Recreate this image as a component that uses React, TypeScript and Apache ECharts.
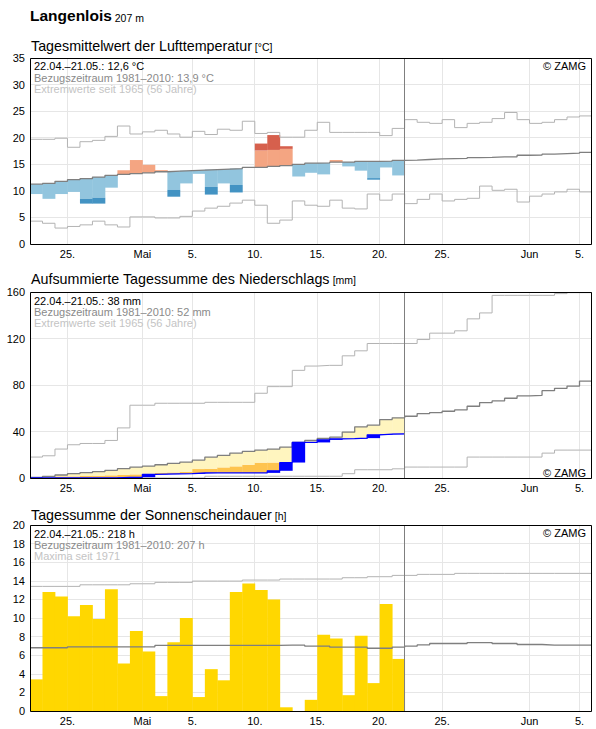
import React, { useEffect, useRef } from 'react';
import * as echarts from 'echarts';

const FONT = '"Liberation Sans", Arial, Helvetica, sans-serif';

// x axis: days counted from 22.04. 00:00, range 22.04. – 06.06.
const TOTAL_DAYS = 45;
const OBS_END = 30;
const xTickDays = [3, 9, 13, 18, 23, 28, 33, 40, 44];
const xTickLabels = ['25.', 'Mai', '5.', '10.', '15.', '20.', '25.', 'Jun', '5.'];

// ---------- Temperature (°C) ----------
const tempMean = [11.25, 11.4, 11.8, 12.1, 12.3, 12.6, 12.9, 13.1, 13.25, 13.4, 13.6, 13.7, 13.8, 13.9, 14.0, 14.1, 14.2, 14.4, 14.4, 14.6, 14.75, 15.0, 15.2, 15.25, 15.4, 15.4, 15.55, 15.55, 15.6, 15.75, 15.8, 15.9, 16.0, 16.05, 16.1, 16.25, 16.3, 16.4, 16.4, 16.7, 16.75, 16.9, 17.0, 17.1, 17.25];
const tempMax = [19.7, 19.7, 19.9, 18.2, 19.25, 19.5, 20.25, 22.2, 20.7, 21.1, 21.4, 20.7, 20.1, 21.2, 20.6, 21.6, 21.4, 23.1, 20.8, 21.0, 20.1, 20.1, 21.4, 22.9, 21.0, 21.0, 21.0, 21.0, 20.4, 21.75, 23.4, 22.9, 22.7, 23.4, 21.9, 22.7, 22.9, 23.6, 24.75, 23.4, 22.7, 22.9, 23.4, 23.9, 24.1];
const tempMin = [4.3, 3.9, 3.0, 3.3, 3.6, 4.3, 3.6, 3.2, 5.1, 5.1, 4.9, 4.9, 5.2, 6.2, 6.75, 7.1, 7.7, 8.25, 7.3, 3.9, 4.5, 8.1, 7.3, 7.1, 8.25, 6.75, 6.6, 9.4, 8.25, 9.4, 7.6, 8.4, 9.4, 8.1, 8.4, 8.6, 10.9, 10.1, 10.3, 7.9, 9.0, 9.4, 9.8, 10.3, 9.8];
const tempActual = [9.4, 8.5, 9.4, 9.8, 7.6, 7.6, 10.6, 13.9, 15.8, 14.9, 13.9, 8.9, 11.4, 13.2, 9.3, 11.4, 9.7, 14.4, 18.9, 20.5, 18.4, 12.7, 13.4, 13.1, 15.8, 14.6, 13.8, 12.1, 14.4, 12.9];
const tempBand = [3.8, 3.8, 3.8, 3.8, 3.8, 3.9, 3.8, 3.7, 3.6, 3.6, 3.6, 3.5, 3.5, 3.4, 3.25, 3.2, 3.1, 3.1, 3.2, 3.1, 3.15, 3.15, 3.15, 3.15, 3.15, 3.15, 3.15, 3.15, 3.15, 3.15];

// ---------- Precipitation, cumulative (mm) ----------
const precipMean = [0.6, 1.4, 2.6, 3.7, 4.6, 5.4, 6.6, 8.0, 9.4, 10.3, 11.4, 12.6, 13.7, 15.4, 18.0, 19.4, 21.4, 22.9, 24.0, 24.9, 26.6, 30.6, 32.3, 34.0, 35.1, 39.4, 44.0, 45.4, 50.3, 51.8, 53.1, 55.4, 56.3, 57.4, 58.6, 61.7, 64.9, 66.3, 68.6, 70.6, 71.1, 75.1, 77.1, 79.1, 83.4];
const precipMax = [18.0, 19.1, 24.9, 28.6, 29.7, 29.7, 32.3, 43.1, 62.6, 62.6, 64.3, 64.3, 64.3, 64.3, 65.1, 65.1, 65.1, 65.1, 72.9, 78.6, 78.6, 92.6, 96.3, 96.9, 96.9, 105.1, 109.4, 115.7, 115.7, 115.7, 115.7, 119.1, 124.6, 124.6, 126.6, 136.9, 142.0, 157.1, 157.1, 157.1, 157.1, 157.1, 158.6, 159.4, 159.4];
const precipMin = [0, 0, 0, 0, 0, 0, 0, 0, 0, 0, 0, 0, 0, 0, 1.5, 1.5, 1.5, 1.5, 1.5, 1.5, 1.5, 1.5, 1.5, 1.5, 1.5, 3.7, 7.1, 7.1, 7.1, 7.9, 9.4, 9.4, 9.4, 9.4, 9.4, 18.0, 18.0, 18.0, 18.0, 18.0, 18.0, 21.4, 24.0, 24.0, 24.0];
const precipActual = [0, 0, 0, 0, 0, 0, 0, 0.6, 0.6, 3.2, 3.4, 3.6, 3.7, 4.3, 4.4, 4.4, 4.4, 4.4, 4.4, 6.2, 13.3, 30.6, 30.6, 32.8, 33.6, 33.8, 34.3, 37.1, 37.7, 38.0];
const precipLow = [0, 0, 1.4, 1.4, 1.7, 2.0, 2.3, 2.6, 3.1, 3.5, 4.3, 4.8, 5.4, 7.7, 8.0, 9.1, 10.0, 11.4, 13.2, 13.3, 13.3, 14.0, 15.0, 16.0, 17.0, 19.0, 21.0, 22.0, 24.0, 25.0];

// ---------- Sunshine duration (h) ----------
const sunMean = [6.8, 6.8, 6.8, 6.9, 6.9, 6.9, 6.9, 6.9, 6.9, 6.9, 7.05, 7.05, 7.05, 7.05, 7.05, 7.05, 7.05, 7.05, 7.05, 7.05, 7.08, 7.08, 6.97, 6.97, 6.86, 6.86, 6.86, 6.75, 6.75, 6.86, 6.97, 7.1, 7.26, 7.26, 7.26, 7.36, 7.36, 7.26, 7.26, 7.15, 7.15, 7.08, 7.08, 7.08, 7.08];
const sunMax = [13.4, 13.4, 13.4, 13.4, 13.57, 13.57, 13.57, 13.57, 13.68, 13.68, 13.83, 13.83, 13.83, 13.97, 13.97, 13.97, 13.97, 14.08, 14.08, 14.08, 14.19, 14.19, 14.19, 14.19, 14.19, 14.33, 14.33, 14.44, 14.44, 14.58, 14.58, 14.69, 14.69, 14.69, 14.8, 14.8, 14.8, 14.8, 14.8, 14.8, 14.8, 14.8, 14.8, 14.8, 14.8];
const sunActual = [3.4, 12.8, 12.3, 10.2, 11.4, 9.9, 13.1, 5.1, 8.6, 6.4, 1.6, 7.4, 10.0, 1.5, 4.5, 3.3, 12.8, 13.7, 13.0, 12.0, 0.4, 0, 1.2, 8.2, 7.8, 1.7, 8.1, 3.0, 11.5, 5.6];

// ---------- texts ----------
const stationName = 'Langenlois';
const stationHeight = '207 m';
const panelTitles = [
  ['Tagesmittelwert der Lufttemperatur', '[°C]'],
  ['Aufsummierte Tagessumme des Niederschlags', '[mm]'],
  ['Tagessumme der Sonnenscheindauer', '[h]'],
];
const panelInfo = [
  ['22.04.–21.05.: 12,6 °C', 'Bezugszeitraum 1981–2010: 13,9 °C', 'Extremwerte seit 1965 (56 Jahre)'],
  ['22.04.–21.05.: 38 mm', 'Bezugszeitraum 1981–2010: 52 mm', 'Extremwerte seit 1965 (56 Jahre)'],
  ['22.04.–21.05.: 218 h', 'Bezugszeitraum 1981–2010: 207 h', 'Maxima seit 1971'],
];
const yRanges = [
  { max: 35, interval: 5 },
  { max: 160, interval: 40 },
  { max: 20, interval: 2 },
];

const COL = {
  grid: '#e6e6e6',
  ext: '#b3b3b3',
  ref: '#7f7f7f',
  frame: '#000000',
  lightBlue: '#92c5de',
  darkBlue: '#4393c3',
  salmon: '#f4a582',
  red: '#d6604d',
  yellow: '#fff5bf',
  orange: '#fec44f',
  rain: '#0000ff',
  sun: '#ffd700',
};

const GRIDS = [
  { left: 30, top: 58, width: 562, height: 186 },
  { left: 30, top: 292, width: 562, height: 186 },
  { left: 30, top: 525, width: 562, height: 186 },
];

const stepData = (arr: number[]) => {
  const d: number[][] = arr.map((v, i) => [i, v]);
  d.push([arr.length, arr[arr.length - 1]]);
  return d;
};

function dayRect(api: any, d: number, y0: number, y1: number, color: string) {
  const p0 = api.coord([d, y0]);
  const p1 = api.coord([d + 1, y1]);
  return {
    type: 'rect',
    shape: {
      x: p0[0],
      y: Math.min(p0[1], p1[1]),
      width: p1[0] - p0[0] + 0.4,
      height: Math.abs(p1[1] - p0[1]),
    },
    style: { fill: color },
  };
}

function lineSeries(idx: number, arr: number[], color: string, width: number, z: number) {
  return {
    type: 'line',
    xAxisIndex: idx,
    yAxisIndex: idx,
    data: stepData(arr),
    step: 'end',
    showSymbol: false,
    symbol: 'none',
    silent: true,
    z,
    lineStyle: { color, width },
  };
}

function buildOption() {
  const series: any[] = [];

  GRIDS.forEach((_, i) => {
    // vertical grid lines
    series.push({
      type: 'custom',
      xAxisIndex: i,
      yAxisIndex: i,
      silent: true,
      z: 1,
      data: xTickDays.map((d) => [d, 0]),
      renderItem: (params: any, api: any) => {
        const cs = params.coordSys;
        const x = Math.floor(api.coord([api.value(0), 0])[0]) + 0.5;
        return {
          type: 'line',
          shape: { x1: x, y1: cs.y, x2: x, y2: cs.y + cs.height },
          style: { stroke: COL.grid, lineWidth: 1 },
        };
      },
    });
    // end-of-observation line
    series.push({
      type: 'custom',
      xAxisIndex: i,
      yAxisIndex: i,
      silent: true,
      z: 9,
      data: [[OBS_END, 0]],
      renderItem: (params: any, api: any) => {
        const cs = params.coordSys;
        const x = Math.floor(api.coord([api.value(0), 0])[0]) + 0.5;
        return {
          type: 'line',
          shape: { x1: x, y1: cs.y, x2: x, y2: cs.y + cs.height },
          style: { stroke: COL.ref, lineWidth: 1 },
        };
      },
    });
    // frame
    series.push({
      type: 'custom',
      xAxisIndex: i,
      yAxisIndex: i,
      silent: true,
      z: 10,
      data: [[0, 0]],
      renderItem: (params: any) => {
        const cs = params.coordSys;
        return {
          type: 'rect',
          shape: {
            x: Math.round(cs.x) + 0.5,
            y: Math.round(cs.y) + 0.5,
            width: Math.round(cs.width) - 1,
            height: Math.round(cs.height),
          },
          style: { fill: 'none', stroke: COL.frame, lineWidth: 1 },
        };
      },
    });
  });

  // Temperature anomalies
  series.push({
    type: 'custom',
    xAxisIndex: 0,
    yAxisIndex: 0,
    silent: true,
    z: 2,
    data: tempActual.map((v, i) => [i, tempMean[i], v, tempBand[i]]),
    renderItem: (params: any, api: any) => {
      const d = api.value(0), m = api.value(1), v = api.value(2), b = api.value(3);
      const children: any[] = [];
      if (v < m) {
        const lim = m - b;
        children.push(dayRect(api, d, m, Math.max(v, lim), COL.lightBlue));
        if (v < lim) children.push(dayRect(api, d, lim, v, COL.darkBlue));
      } else if (v > m) {
        const lim = m + b;
        children.push(dayRect(api, d, m, Math.min(v, lim), COL.salmon));
        if (v > lim) children.push(dayRect(api, d, lim, v, COL.red));
      }
      return { type: 'group', children };
    },
  });
  series.push(lineSeries(0, tempMax, COL.ext, 1, 3));
  series.push(lineSeries(0, tempMin, COL.ext, 1, 3));
  series.push(lineSeries(0, tempMean, COL.ref, 1.3, 4));

  // Precipitation
  series.push({
    type: 'custom',
    xAxisIndex: 1,
    yAxisIndex: 1,
    silent: true,
    z: 2,
    data: precipActual.map((a, i) => [i, a, i > 0 ? precipActual[i - 1] : 0, precipMean[i], precipLow[i]]),
    renderItem: (params: any, api: any) => {
      const d = api.value(0), a = api.value(1), prev = api.value(2), m = api.value(3), l = api.value(4);
      const children: any[] = [];
      const lowTop = Math.min(l, m);
      if (a < lowTop) children.push(dayRect(api, d, a, lowTop, COL.orange));
      const yb = Math.max(a, l);
      if (m > yb) children.push(dayRect(api, d, yb, m, COL.yellow));
      if (a > prev) children.push(dayRect(api, d, prev, a, COL.rain));
      return { type: 'group', children };
    },
  });
  series.push(lineSeries(1, precipMax, COL.ext, 1, 3));
  series.push(lineSeries(1, precipMin, COL.ext, 1, 3));
  series.push(lineSeries(1, precipMean, COL.ref, 1.3, 4));
  series.push(lineSeries(1, precipActual, COL.rain, 1.3, 5));

  // Sunshine
  series.push({
    type: 'custom',
    xAxisIndex: 2,
    yAxisIndex: 2,
    silent: true,
    z: 2,
    data: sunActual.map((v, i) => [i, v]),
    renderItem: (params: any, api: any) => {
      const d = api.value(0), v = api.value(1);
      if (!(v > 0)) return { type: 'group', children: [] };
      return dayRect(api, d, 0, v, COL.sun);
    },
  });
  series.push(lineSeries(2, sunMax, COL.ext, 1, 3));
  series.push(lineSeries(2, sunMean, COL.ref, 1.3, 4));

  const xAxis = GRIDS.map((_, i) => ({
    type: 'value',
    gridIndex: i,
    min: 0,
    max: TOTAL_DAYS,
    interval: 1,
    axisLine: { show: false },
    axisTick: { show: false },
    splitLine: { show: false },
    axisLabel: {
      margin: 4,
      color: '#000',
      fontSize: 11,
      fontFamily: FONT,
      formatter: (v: number) => {
        const k = xTickDays.indexOf(Math.round(v));
        return k >= 0 && Math.abs(v - Math.round(v)) < 1e-6 ? xTickLabels[k] : '';
      },
    },
  }));

  const yAxis = GRIDS.map((_, i) => ({
    type: 'value',
    gridIndex: i,
    min: 0,
    max: yRanges[i].max,
    interval: yRanges[i].interval,
    axisLine: { show: false },
    axisTick: { show: false },
    splitLine: { show: true, lineStyle: { color: COL.grid, width: 1 } },
    axisLabel: { margin: 5, color: '#000', fontSize: 11, fontFamily: FONT },
  }));

  const titleY = [44, 277, 513];
  const richBase = (bold: boolean) => ({
    a: { fontFamily: FONT, fontSize: bold ? 15.5 : 14.3, fontWeight: bold ? 'bold' : 'normal', color: '#000', lineHeight: 17, verticalAlign: 'bottom' },
    b: { fontFamily: FONT, fontSize: 10.5, fontWeight: 'normal', color: '#000', lineHeight: 12, verticalAlign: 'bottom' },
  });
  const title: any[] = [
    {
      text: `{a|${stationName}}{b| ${stationHeight}}`,
      left: 30,
      top: 6.5,
      padding: 0,
      textStyle: { fontWeight: 'normal', rich: richBase(true) },
    },
    ...panelTitles.map((t, i) => ({
      text: `{a|${t[0]}}{b| ${t[1]}}`,
      left: 31,
      top: titleY[i] - 8.5,
      padding: 0,
      textStyle: { fontWeight: 'normal', rich: richBase(false) },
    })),
  ];

  const infoColors = ['#000000', '#8a8a8a', '#c4c4c4'];
  const infoY = [
    [66, 77.5, 89],
    [300.5, 311.5, 322.5],
    [534, 545, 556],
  ];
  const zamgY = [66, 472.5, 533];
  const graphic: any[] = [];
  panelInfo.forEach((lines, i) => {
    lines.forEach((txt, j) => {
      graphic.push({
        type: 'text',
        x: 34,
        y: infoY[i][j],
        silent: true,
        z: 20,
        style: { text: txt, fill: infoColors[j], font: `11px ${FONT}`, align: 'left', verticalAlign: 'middle' },
      });
    });
    graphic.push({
      type: 'text',
      x: 586,
      y: zamgY[i],
      silent: true,
      z: 20,
      style: { text: '© ZAMG', fill: '#000', font: `11px ${FONT}`, align: 'right', verticalAlign: 'middle' },
    });
  });

  return {
    animation: false,
    backgroundColor: '#ffffff',
    textStyle: { fontFamily: FONT },
    title,
    grid: GRIDS.map((g) => ({ ...g, containLabel: false })),
    xAxis,
    yAxis,
    series,
    graphic,
  };
}

export default function App() {
  const ref = useRef<HTMLDivElement>(null);
  useEffect(() => {
    if (!ref.current) return;
    const chart = echarts.init(ref.current, undefined, { renderer: 'svg' });
    chart.setOption(buildOption() as any);
    return () => chart.dispose();
  }, []);
  return (
    <div
      ref={ref}
      style={{ position: 'absolute', left: 0, top: 0, width: 596, height: 729, background: '#fff' }}
    />
  );
}
